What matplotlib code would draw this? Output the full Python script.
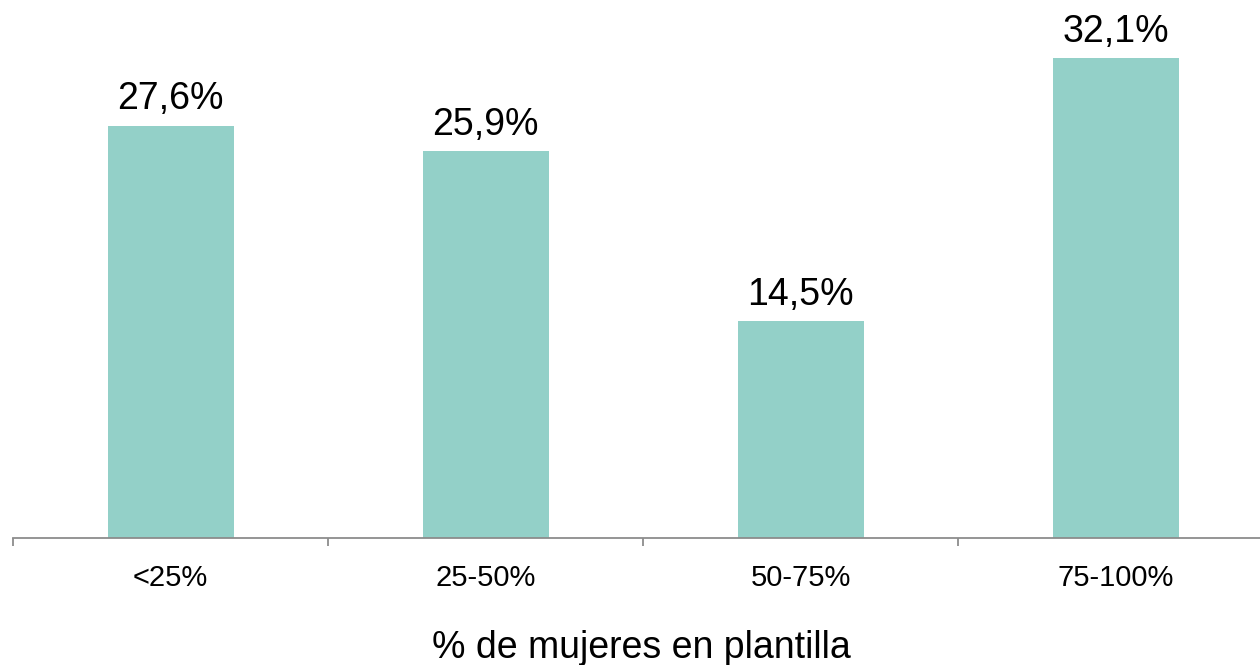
import matplotlib
matplotlib.use("Agg")
import matplotlib.pyplot as plt
import numpy as np

plt.rcParams['font.family'] = ['Liberation Sans', 'DejaVu Sans']

# datos del gráfico
categorias = ['<25%', '25-50%', '50-75%', '75-100%']
valores = [27.6, 25.9, 14.5, 32.1]
etiquetas = ['27,6%', '25,9%', '14,5%', '32,1%']

fig = plt.figure(figsize=(12.6, 6.65), dpi=100)
ax = fig.add_axes([13 / 1260, (665 - 538) / 665, 1.0 - 13 / 1260, 538 / 665])

x = np.arange(len(categorias))
barras = ax.bar(x, valores, width=0.4, color='#93D0C8')

for b, txt in zip(barras, etiquetas):
    ax.annotate(txt, (b.get_x() + b.get_width() / 2, b.get_height()),
                xytext=(0, 6), textcoords='offset points',
                ha='center', va='bottom', fontsize=27, color='black')

# eje x con marcas entre categorías
ax.set_xticks(x)
ax.set_xticklabels(categorias, fontsize=21)
ax.tick_params(axis='x', length=0, pad=19)
ax.set_xticks(np.arange(len(categorias) + 1) - 0.5, minor=True)
ax.tick_params(axis='x', which='minor', length=6, width=1.3, color='#8c8c8c')
ax.set_yticks([])

# los límites después de las marcas (set_xticks los amplía)
ax.set_xlim(-0.5, -0.5 + 1247 / 315)
ax.set_ylim(0, 36)

for lado in ['top', 'right', 'left']:
    ax.spines[lado].set_visible(False)
ax.spines['bottom'].set_color('#8c8c8c')
ax.spines['bottom'].set_linewidth(1.3)

ax.set_xlabel('% de mujeres en plantilla', fontsize=27, labelpad=27)
ax.xaxis.label.set_x(0.504)

plt.savefig('out.png', dpi=100)
